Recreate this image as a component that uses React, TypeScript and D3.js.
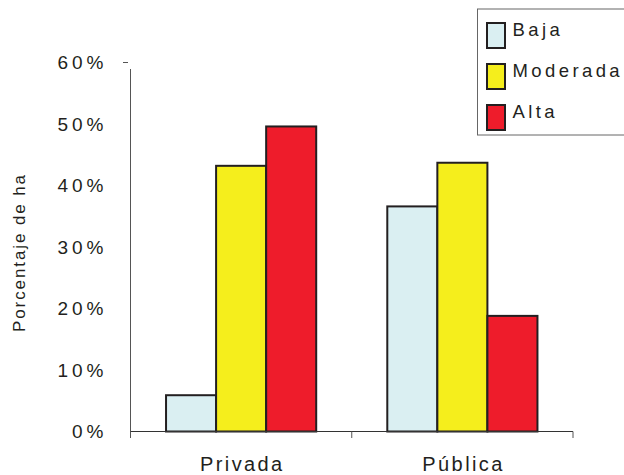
import React from "react";
import * as d3 from "d3";

const categories = ["Privada", "Pública"];
const seriesNames = ["Baja", "Moderada", "Alta"];
const privadaValues = [5.9, 43.2, 49.6];
const publicaValues = [36.6, 43.7, 18.8];
const yTicks = [0, 10, 20, 30, 40, 50, 60];
const colors = ["#daeff2", "#f5ee1c", "#ee1c2b"];

const values = [privadaValues, publicaValues];

export default function App() {
  const W = 624, H = 475;
  const x0 = d3.scaleBand<string>().domain(categories).range([130.5, 573]).padding(0);
  const x1 = d3
    .scaleBand<string>()
    .domain(seriesNames)
    .range([0, x0.bandwidth()])
    .paddingInner(0)
    .paddingOuter(0.71);
  const y = d3.scaleLinear().domain([0, 60]).range([431.5, 62.5]);
  const font = "'Liberation Sans', Arial, sans-serif";
  const tickLs = 4;

  return (
    <svg width={W} height={H} style={{ position: "absolute", left: 0, top: 0, background: "#fff" }}>
      {/* bars */}
      {categories.map((c, ci) =>
        seriesNames.map((s, si) => {
          const v = values[ci][si];
          const bx = (x0(c) as number) + (x1(s) as number);
          return (
            <rect
              key={c + s}
              x={bx}
              y={y(v)}
              width={x1.bandwidth()}
              height={y(0) - y(v)}
              fill={colors[si]}
              stroke="#231f20"
              strokeWidth={2}
            />
          );
        })
      )}
      {/* axes */}
      <line x1={130.5} x2={130.5} y1={69} y2={438} stroke="#555" strokeWidth={1} />
      <line x1={123} x2={128} y1={y(60)} y2={y(60)} stroke="#555" strokeWidth={1} />
      <line x1={130.5} x2={573} y1={y(0)} y2={y(0)} stroke="#333" strokeWidth={1} />
      {[0, 1, 2].map((i) => {
        const xx = i === 0 ? 130.5 : i === 1 ? (x0(categories[1]) as number) : 573;
        return <line key={i} x1={xx} x2={xx} y1={y(0)} y2={438} stroke="#555" strokeWidth={1} />;
      })}
      {yTicks.map((t) => (
        <text
          key={t}
          x={103.5 + tickLs}
          y={y(t)}
          dy="0.35em"
          textAnchor="end"
          fontFamily={font}
          fontSize={19}
          letterSpacing={tickLs}
          fill="#231f20"
        >
          {t}%
        </text>
      ))}
      {categories.map((c) => (
        <text
          key={c}
          x={(x0(c) as number) + x0.bandwidth() / 2 + 1.2}
          y={470.5}
          textAnchor="middle"
          fontFamily={font}
          fontSize={20}
          letterSpacing={2.4}
          fill="#231f20"
        >
          {c}
        </text>
      ))}
      <text
        transform="translate(25.2,252.5) rotate(-90)"
        textAnchor="middle"
        fontFamily={font}
        fontSize={17}
        letterSpacing={1.9}
        fill="#231f20"
      >
        Porcentaje de ha
      </text>
      {/* legend */}
      <rect x={477.5} y={9} width={160} height={126} fill="none" stroke="#666" strokeWidth={1} />
      {seriesNames.map((s, i) => (
        <g key={s} transform={`translate(487,${23 + i * 41})`}>
          <rect x={0} y={0} width={18} height={25} fill={colors[i]} stroke="#231f20" strokeWidth={2} />
          <text x={25.5} y={12.5} fontFamily={font} fontSize={18.5} letterSpacing={3.4} fill="#231f20">
            {s}
          </text>
        </g>
      ))}
    </svg>
  );
}
